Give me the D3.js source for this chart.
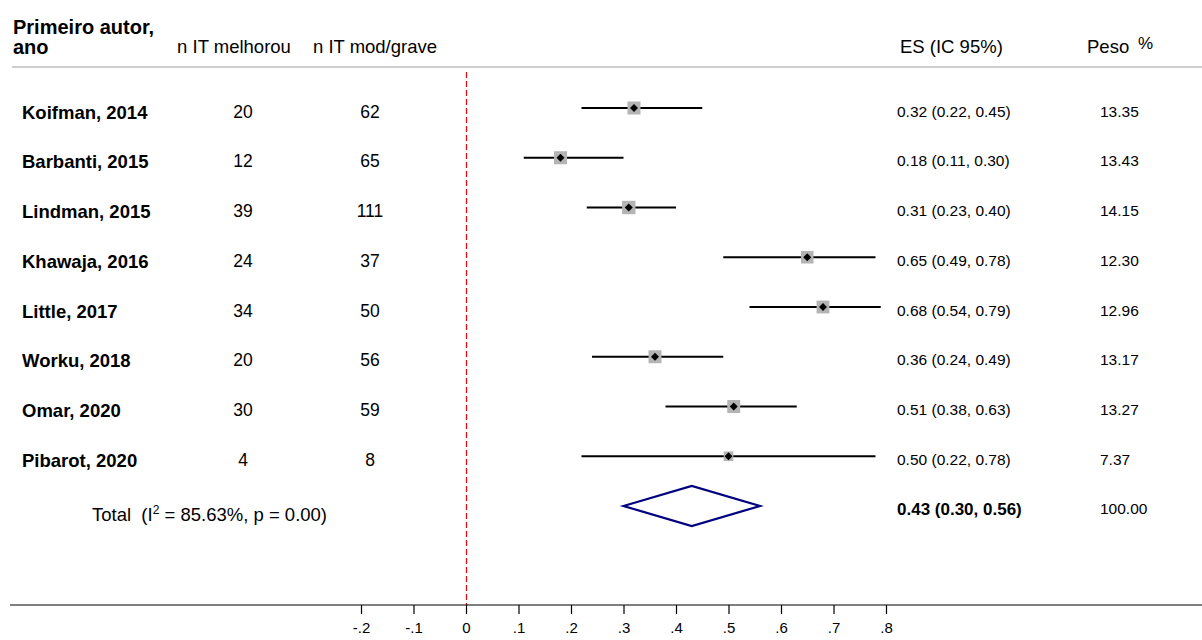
<!DOCTYPE html>
<html>
<head>
<meta charset="utf-8">
<script src="https://cdn.jsdelivr.net/npm/d3@7"></script>
<style>
  body { margin: 0; background: #fff; }
  svg { display: block; font-family: "Liberation Sans", Arial, sans-serif; }
  text { white-space: pre; }
</style>
</head>
<body>
<svg id="chart" width="1202" height="640"></svg>
<script>
// study rows
const studies = ['Koifman, 2014', 'Barbanti, 2015', 'Lindman, 2015', 'Khawaja, 2016',
  'Little, 2017', 'Worku, 2018', 'Omar, 2020', 'Pibarot, 2020'];
const nImproved = [20, 12, 39, 24, 34, 20, 30, 4];
const nModSevere = [62, 65, 111, 37, 50, 56, 59, 8];
const es = [0.32, 0.18, 0.31, 0.65, 0.68, 0.36, 0.51, 0.50];
const lo = [0.22, 0.11, 0.23, 0.49, 0.54, 0.24, 0.38, 0.22];
const hi = [0.45, 0.30, 0.40, 0.78, 0.79, 0.49, 0.63, 0.78];
const weights = [13.35, 13.43, 14.15, 12.30, 12.96, 13.17, 13.27, 7.37];
// pooled
const pooled = { es: 0.43, lo: 0.30, hi: 0.56, weight: 100.00 };
const xTicks = [-0.2, -0.1, 0, 0.1, 0.2, 0.3, 0.4, 0.5, 0.6, 0.7, 0.8];

const svg = d3.select('#chart');
const fmt = d3.format('.2f');

const x = d3.scaleLinear().domain([0, 0.8]).range([466, 886]);
const y = d3.scaleLinear().domain([0, 8]).range([108, 506]);
const side = d3.scaleSqrt().domain([0, 13.35]).range([0, 13]);

// header
svg.append('text').attr('x', 13).attr('y', 34)
  .style('font-size', '20px').style('font-weight', 'bold').text('Primeiro autor,');
svg.append('text').attr('x', 13).attr('y', 54)
  .style('font-size', '20px').style('font-weight', 'bold').text('ano');
svg.append('text').attr('x', 234).attr('y', 53).attr('text-anchor', 'middle')
  .style('font-size', '18.5px').text('n IT melhorou');
svg.append('text').attr('x', 375).attr('y', 53).attr('text-anchor', 'middle')
  .style('font-size', '18.5px').text('n IT mod/grave');
svg.append('text').attr('x', 900).attr('y', 53)
  .style('font-size', '18.5px').text('ES (IC 95%)');
svg.append('text').attr('x', 1087).attr('y', 53)
  .style('font-size', '18.5px').text('Peso');
svg.append('text').attr('x', 1138).attr('y', 49)
  .style('font-size', '17px').text('%');

svg.append('line').attr('x1', 12).attr('x2', 1202).attr('y1', 67).attr('y2', 67)
  .attr('stroke', '#bdbdbd').attr('stroke-width', 1.5);

// null line
svg.append('line').attr('x1', x(0) + 0.5).attr('x2', x(0) + 0.5).attr('y1', 72).attr('y2', 605)
  .attr('stroke', '#e01010').attr('stroke-width', 1.3).attr('stroke-dasharray', '6,3');

// rows
const rows = svg.selectAll('g.row').data(studies).join('g').attr('class', 'row');

rows.append('text').attr('x', 22).attr('y', (d, i) => y(i) + 10.5)
  .style('font-size', '18.5px').style('font-weight', 'bold').text(d => d);
rows.append('text').attr('x', 243).attr('y', (d, i) => y(i) + 9.5).attr('text-anchor', 'middle')
  .style('font-size', '17.5px').text((d, i) => nImproved[i]);
rows.append('text').attr('x', 370).attr('y', (d, i) => y(i) + 9.5).attr('text-anchor', 'middle')
  .style('font-size', '17.5px').text((d, i) => nModSevere[i]);
rows.append('text').attr('x', 897).attr('y', (d, i) => y(i) + 8.5)
  .style('font-size', '15.5px').text((d, i) => `${fmt(es[i])} (${fmt(lo[i])}, ${fmt(hi[i])})`);
rows.append('text').attr('x', 1100).attr('y', (d, i) => y(i) + 8.5)
  .style('font-size', '15.5px').text((d, i) => fmt(weights[i]));

rows.append('line')
  .attr('x1', (d, i) => x(lo[i])).attr('x2', (d, i) => x(hi[i]))
  .attr('y1', (d, i) => y(i)).attr('y2', (d, i) => y(i))
  .attr('stroke', '#000').attr('stroke-width', 2.2);
rows.append('rect')
  .attr('x', (d, i) => x(es[i]) - side(weights[i]) / 2)
  .attr('y', (d, i) => y(i) - side(weights[i]) / 2)
  .attr('width', (d, i) => side(weights[i]))
  .attr('height', (d, i) => side(weights[i]))
  .attr('fill', '#b4b4b4');
rows.append('path')
  .attr('d', (d, i) => {
    const cx = x(es[i]), cy = y(i), r = 4;
    return `M${cx},${cy - r}L${cx + r},${cy}L${cx},${cy + r}L${cx - r},${cy}Z`;
  })
  .attr('fill', '#000');

// pooled row
const yT = y(8);
const total = svg.append('text').attr('x', 92).attr('y', yT + 15).style('font-size', '18.5px');
total.append('tspan').text('Total  (I');
total.append('tspan').attr('dy', -7).style('font-size', '12px').text('2');
total.append('tspan').attr('dy', 7).text(' = 85.63%, p = 0.00)');

svg.append('path')
  .attr('d', `M${x(pooled.lo)},${yT}L${x(pooled.es)},${yT - 20}L${x(pooled.hi)},${yT}L${x(pooled.es)},${yT + 20}Z`)
  .attr('fill', 'none').attr('stroke', '#000080').attr('stroke-width', 2.2);
svg.append('text').attr('x', 897).attr('y', yT + 8.5)
  .style('font-size', '17px').style('font-weight', 'bold')
  .text(`${fmt(pooled.es)} (${fmt(pooled.lo)}, ${fmt(pooled.hi)})`);
svg.append('text').attr('x', 1100).attr('y', yT + 8)
  .style('font-size', '15.5px').text(fmt(pooled.weight));

// x axis
svg.append('line').attr('x1', 10).attr('x2', 1202).attr('y1', 605).attr('y2', 605)
  .attr('stroke', '#000').attr('stroke-width', 1.2);
const axis = svg.append('g').attr('transform', 'translate(0,605)')
  .call(d3.axisBottom(x).tickValues(xTicks).tickSize(9).tickPadding(8)
    .tickFormat(d => d === 0 ? '0' : (d < 0 ? '-' : '') + d3.format('.1f')(Math.abs(d)).replace('0.', '.')));
axis.select('.domain').remove();
axis.selectAll('line').attr('stroke-width', 1.2);
axis.selectAll('text').style('font-size', '15px').style('font-family', '"Liberation Sans", Arial, sans-serif');
</script>
</body>
</html>
